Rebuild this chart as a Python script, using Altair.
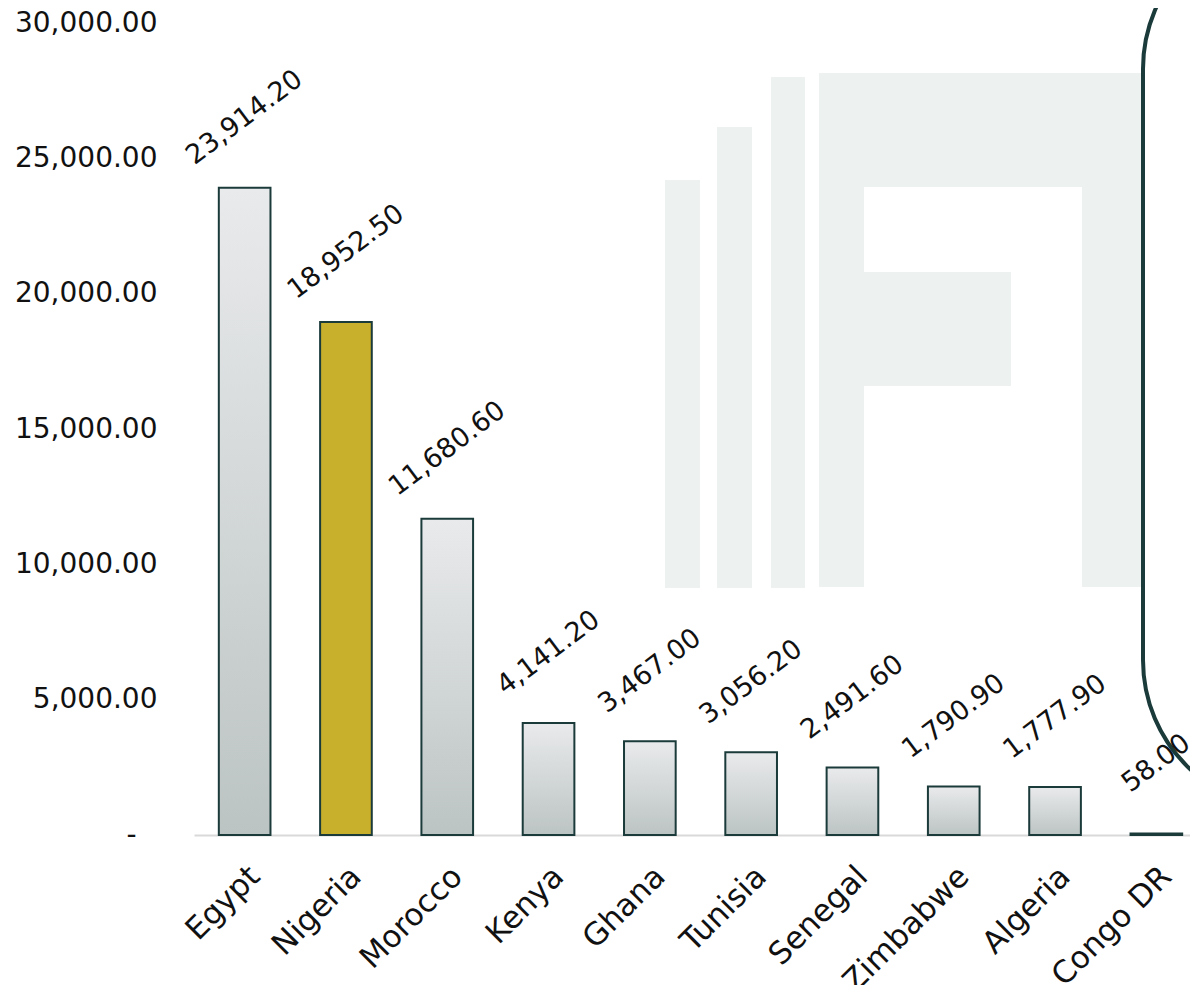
import altair as alt
import pandas as pd

countries = ["Egypt", "Nigeria", "Morocco", "Kenya", "Ghana", "Tunisia",
             "Senegal", "Zimbabwe", "Algeria", "Congo DR"]
values = [23914.20, 18952.50, 11680.60, 4141.20, 3467.00, 3056.20,
          2491.60, 1790.90, 1777.90, 58.00]
y_ticks = [0, 5000, 10000, 15000, 20000, 25000, 30000]
highlight = "Nigeria"

df = pd.DataFrame({"country": countries, "value": values})

FONT = "DejaVu Sans"
STROKE = "#1b3a3a"
WM = "#edf2f0"

grad = {
    "gradient": "linear", "x1": 0, "y1": 0, "x2": 0, "y2": 1,
    "stops": [{"offset": 0, "color": "#e9eaec"}, {"offset": 1, "color": "#bcc4c3"}],
}

one = pd.DataFrame({"k": [0]})


def deco(x, x2, y, y2, **kw):
    return alt.Chart(one).mark_rect(**kw).encode(
        x=alt.value(x), x2=alt.value(x2), y=alt.value(y), y2=alt.value(y2)
    )


wm_color = dict(color=WM, strokeWidth=0)
watermark = [
    deco(471, 506, 157, 565, **wm_color),
    deco(523, 558, 104, 565, **wm_color),
    deco(577, 611, 54, 565, **wm_color),
    deco(625, 670, 50, 564, **wm_color),
    deco(670, 949, 50, 164, **wm_color),
    deco(670, 817, 249, 363, **wm_color),
    deco(888, 949, 164, 564, **wm_color),
]
outline = alt.Chart(one).mark_rect(
    fill="white", fillOpacity=0, stroke=STROKE, strokeWidth=4, cornerRadius=150
).encode(x=alt.value(949), x2=alt.value(1320), y=alt.value(-104), y2=alt.value(787))

x_enc = alt.X(
    "country:N",
    sort=countries,
    scale=alt.Scale(range=[0, 1013], paddingInner=0.49, paddingOuter=0.245),
    axis=alt.Axis(
        title=None, labelAngle=315, labelFont=FONT, labelFontSize=31,
        labelColor="#111111", ticks=False, domainColor="#d9d9d9",
        domainWidth=2, labelPadding=26, labelAlign="right", labelBaseline="top",
    ),
)
y_enc = alt.Y(
    "value:Q",
    scale=alt.Scale(domain=[0, 30000], nice=False),
    axis=alt.Axis(
        title=None, values=y_ticks, grid=False, domain=False, ticks=False,
        labelFont=FONT, labelFontSize=28, labelColor="#111111",
        labelPadding=alt.condition("datum.value == 0", alt.value(58), alt.value(37)),
        labelExpr="datum.value == 0 ? '-' : format(datum.value, ',.2f')",
    ),
)

bars = alt.Chart(df).mark_bar(stroke=STROKE, strokeWidth=2).encode(
    x=x_enc,
    y=y_enc,
    fill=alt.condition(alt.datum.country == highlight, alt.value("#c8b02c"), alt.value(grad)),
)

labels = alt.Chart(df).mark_text(
    angle=323, align="center", baseline="middle", yOffset=-70,
    font=FONT, fontSize=27, color="#111111",
).encode(
    x=alt.X("country:N", sort=countries),
    y="value:Q",
    text=alt.Text("value:Q", format=",.2f"),
)

chart = alt.layer(*watermark, outline, bars, labels).properties(
    width=996, height=812,
    padding={"left": 186, "top": 15, "right": 0, "bottom": 150},
    autosize=alt.AutoSizeParams(type="none"),
).configure_view(stroke=None)

chart.save("out.html", embed_options={"renderer": "svg", "actions": False})
